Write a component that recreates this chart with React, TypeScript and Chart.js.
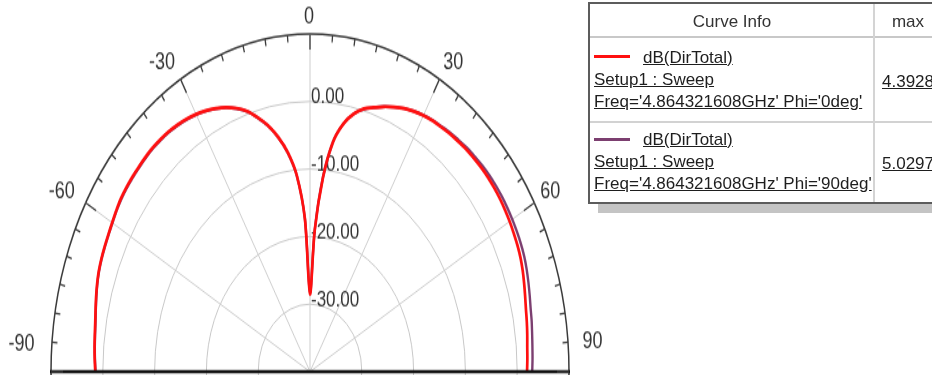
import React, { useEffect, useRef } from 'react';
import { Chart, registerables } from 'chart.js';

Chart.register(...registerables);

// ---------- data ----------
const ANGLE_STEP = 2.5; // degrees between samples
// theta from -90 to 90 deg (step 2.5)
const thetaDeg: number[] = Array.from({ length: 73 }, (_, i) => -90 + i * ANGLE_STEP);

// dB(DirTotal), Phi = 0deg (red)
const dirPhi0: number[] = [
  1.45, 1.6, 1.75, 1.9, 2.1, 2.4, 2.75, 3.1, 3.4, 3.6, 3.75, 3.9, 4.1, 4.35, 4.6, 4.72, 4.8,
  4.85, 4.92, 4.95, 4.9, 4.8, 4.6, 4.35, 4.0, 3.55, 3.0, 2.35, 1.5, 0.45, -1.05, -2.7, -4.76,
  -7.3, -10.85, -17.3, -28.5, -19.0, -11.1, -5.6, -2.7, -0.9, 0.3, 1.0, 1.75, 2.4, 3.0, 3.45,
  3.8, 4.05, 4.2, 4.4, 4.5, 4.65, 4.72, 4.8, 4.82, 4.78, 4.72, 4.62, 4.5, 4.35, 4.2, 4.0,
  3.7, 3.35, 3.0, 2.7, 2.5, 2.3, 2.1, 2.0, 1.9,
];

// dB(DirTotal), Phi = 90deg (purple)
const dirPhi90: number[] = [
  1.4, 1.55, 1.7, 1.85, 2.05, 2.35, 2.7, 3.05, 3.35, 3.55, 3.7, 3.85, 4.05, 4.3, 4.5, 4.62,
  4.7, 4.75, 4.82, 4.85, 4.8, 4.7, 4.52, 4.28, 3.95, 3.5, 2.95, 2.3, 1.45, 0.4, -1.1, -2.75,
  -4.8, -7.35, -10.9, -17.3, -28.3, -19.0, -11.0, -5.6, -2.7, -0.9, 0.25, 1.0, 1.75, 2.4, 3.0,
  3.48, 3.85, 4.12, 4.3, 4.55, 4.7, 4.9, 5.0, 5.15, 5.22, 5.23, 5.22, 5.17, 5.1, 5.0, 4.9,
  4.75, 4.5, 4.2, 3.9, 3.62, 3.45, 3.25, 3.1, 3.0, 2.9,
];

const radialTickValues = [-30, -20, -10, 0];
const angleTickLabels = [-90, -60, -30, 0, 30, 60, 90];
const R_MIN = -40;
const R_MAX = 10;
const R_STEP = 10;

const legendSetup = 'Setup1 : Sweep';
const legendFreq = ["Freq='4.864321608GHz' Phi='0deg'", "Freq='4.864321608GHz' Phi='90deg'"];
const legendExpr = 'dB(DirTotal)';
const legendMax = ['4.3928', '5.0297'];

// ---------- styling ----------
const RED = '#ff1010';
const PURPLE = '#7c3f70';
const STRETCH_Y = 1.304;
const FONT = '"Liberation Sans", Arial, Helvetica, sans-serif';

// full-circle slots for the radar scale (0 at top, clockwise)
const SLOT_COUNT = 360 / ANGLE_STEP;
const slotAngles: number[] = Array.from({ length: SLOT_COUNT }, (_, i) => {
  const a = i * ANGLE_STEP;
  return a > 180 ? a - 360 : a;
});
const toSlots = (series: number[]) =>
  slotAngles.map((a) => {
    const j = thetaDeg.indexOf(a);
    return j >= 0 ? series[j] : null;
  });
const slotIndex = (deg: number) => (((deg % 360) + 360) % 360) / ANGLE_STEP;

const ANGLE_LABEL_OFFSETS: Record<string, [number, number, CanvasTextAlign]> = {
  '-90': [-16.5, -21, 'right'],
  '-60': [-11, -8, 'right'],
  '-30': [-5.5, -12.8, 'right'],
  '0': [-1, -13.4, 'center'],
  '30': [3.75, -12.8, 'left'],
  '60': [6, -8.6, 'left'],
  '90': [13.5, -22.6, 'left'],
};

const polarDecor = {
  id: 'polarDecor',
  beforeDatasetsDraw(chart: any) {
    const s = chart.scales.r;
    const ctx = chart.ctx as CanvasRenderingContext2D;
    ctx.save();
    ctx.font = `17px ${FONT}`;
    ctx.fillStyle = '#333';
    ctx.textAlign = 'left';
    ctx.textBaseline = 'middle';
    radialTickValues.forEach((v) => {
      const d = s.getDistanceFromCenterForValue(v);
      ctx.fillText(v.toFixed(2), s.xCenter + 1, s.yCenter - d - 3);
    });
    ctx.restore();
  },
  afterDatasetsDraw(chart: any) {
    const s = chart.scales.r;
    const ctx = chart.ctx as CanvasRenderingContext2D;
    const R = s.drawingArea;
    ctx.save();
    // baseline (-90 .. 90)
    const pl = s.getPointPosition(slotIndex(-90), R);
    const pr = s.getPointPosition(slotIndex(90), R);
    ctx.strokeStyle = '#111';
    ctx.lineWidth = 2.3;
    ctx.beginPath();
    ctx.moveTo(pl.x - 1, pl.y);
    ctx.lineTo(pr.x + 1, pr.y);
    ctx.stroke();
    // ticks on outer circle every 5 deg
    ctx.strokeStyle = '#3a3a3a';
    ctx.lineWidth = 1.3;
    for (let deg = -90; deg <= 90; deg += 5) {
      const long = deg % 30 === 0;
      const a = s.getPointPosition(slotIndex(deg), R);
      const b = s.getPointPosition(slotIndex(deg), R - (long ? 12 : 5.5));
      ctx.beginPath();
      ctx.moveTo(a.x, a.y);
      ctx.lineTo(b.x, b.y);
      ctx.stroke();
    }
    // angle labels
    ctx.font = `18px ${FONT}`;
    ctx.fillStyle = '#333';
    ctx.textBaseline = 'middle';
    angleTickLabels.forEach((deg) => {
      const p = s.getPointPosition(slotIndex(deg), R);
      const [dx, dy, align] = ANGLE_LABEL_OFFSETS[String(deg)];
      ctx.textAlign = align;
      ctx.fillText(String(deg), p.x + dx, p.y + dy);
    });
    ctx.restore();
  },
};

function PolarChart() {
  const ref = useRef<HTMLCanvasElement>(null);
  useEffect(() => {
    if (!ref.current) return;
    const isSpoke = (i: number) => {
      const a = slotAngles[i];
      return a % 30 === 0 && Math.abs(a) < 90;
    };
    const chart = new Chart(ref.current, {
      type: 'radar',
      data: {
        labels: slotAngles.map(String),
        datasets: [
          {
            label: "Phi='0deg'",
            data: toSlots(dirPhi0),
            borderColor: RED,
            borderWidth: 2.7,
            pointRadius: 0,
            pointHoverRadius: 0,
            fill: false,
            tension: 0.3,
            spanGaps: false,
          },
          {
            label: "Phi='90deg'",
            data: toSlots(dirPhi90),
            borderColor: PURPLE,
            borderWidth: 2.4,
            pointRadius: 0,
            pointHoverRadius: 0,
            fill: false,
            tension: 0.3,
            spanGaps: false,
          },
        ],
      },
      options: {
        animation: false,
        responsive: false,
        maintainAspectRatio: false,
        devicePixelRatio: 1,
        layout: { padding: { left: 51, right: 51, top: 26, bottom: 56 } },
        plugins: { legend: { display: false }, tooltip: { enabled: false } },
        scales: {
          r: {
            min: R_MIN,
            max: R_MAX,
            startAngle: 0,
            ticks: { display: false, stepSize: R_STEP },
            grid: {
              circular: true,
              color: (c: any) => (c.tick && c.tick.value === R_MAX ? '#3a3a3a' : '#c8c8c8'),
              lineWidth: (c: any) => (c.tick && c.tick.value === R_MAX ? 1.5 : 1),
            },
            angleLines: {
              display: true,
              color: (c: any) => (isSpoke(c.index) ? '#cdcdcd' : 'rgba(0,0,0,0)'),
              lineWidth: (c: any) => (isSpoke(c.index) ? 1 : 0),
            },
            pointLabels: { display: false },
          },
        },
      } as any,
      plugins: [polarDecor],
    });
    return () => chart.destroy();
  }, []);
  return (
    <div
      style={{
        position: 'absolute',
        left: 0,
        top: 0,
        width: 620,
        height: 600,
        transform: `scaleY(${STRETCH_Y})`,
        transformOrigin: '0 0',
      }}
    >
      <canvas ref={ref} width={620} height={600} style={{ display: 'block', width: 620, height: 600 }} />
    </div>
  );
}

const txt = (extra: React.CSSProperties): React.CSSProperties => ({
  position: 'absolute',
  whiteSpace: 'nowrap',
  lineHeight: '22px',
  ...extra,
});

function Legend() {
  const rows = [
    { color: RED, top: 43, sample: 51 },
    { color: PURPLE, top: 125, sample: 134 },
  ];
  return (
    <div
      style={{
        position: 'absolute',
        left: 588,
        top: 2,
        width: 360,
        height: 198,
        borderTop: '2px solid #5c5c5c',
        borderLeft: '2px solid #5c5c5c',
        borderBottom: '2px solid #5c5c5c',
        background: '#fff',
        boxShadow: '10px 9px 0 #c4c4c4',
        fontFamily: FONT,
        fontSize: 17,
        color: '#1e1e1e',
      }}
    >
      <div style={txt({ left: 0, top: 7, width: 284, textAlign: 'center', color: '#333' })}>Curve Info</div>
      <div style={txt({ left: 286, top: 7, width: 64, textAlign: 'center', color: '#333' })}>max</div>
      <div style={{ position: 'absolute', left: 0, right: 0, top: 32, height: 1.5, background: '#c8c8c8' }} />
      <div style={{ position: 'absolute', left: 0, right: 0, top: 117, height: 2, background: '#d2d2d2' }} />
      <div style={{ position: 'absolute', left: 283, top: 0, bottom: 0, width: 2, background: '#d4d4d4' }} />
      {rows.map((r, i) => (
        <React.Fragment key={i}>
          <div style={{ position: 'absolute', left: 4, top: r.sample, width: 36, height: 3, background: r.color }} />
          <div style={txt({ left: 53, top: r.top, textDecoration: 'underline' })}>{legendExpr}</div>
          <div style={txt({ left: 4, top: r.top + 22, textDecoration: 'underline' })}>{legendSetup}</div>
          <div style={txt({ left: 4, top: r.top + 44, textDecoration: 'underline' })}>{legendFreq[i]}</div>
          <div style={txt({ left: 292, top: r.top + 24, textDecoration: 'underline' })}>{legendMax[i]}</div>
        </React.Fragment>
      ))}
    </div>
  );
}

export default function App() {
  return (
    <div
      style={{
        position: 'fixed',
        left: 0,
        top: 0,
        width: 932,
        height: 375,
        overflow: 'hidden',
        background: '#fff',
      }}
    >
      <PolarChart />
      <Legend />
    </div>
  );
}
